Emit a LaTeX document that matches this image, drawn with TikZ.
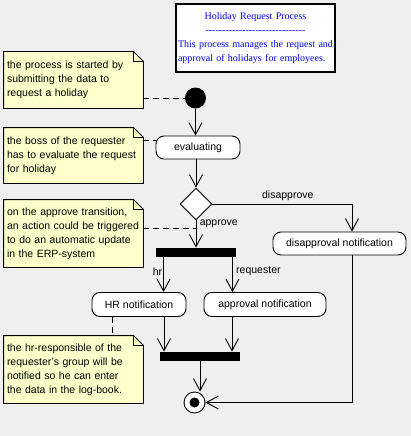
\documentclass[tikz,border=0pt]{standalone}
\usepackage{fontspec}
\setmainfont{Liberation Sans}
\newfontfamily\titlefont[Ligatures=TeXOff]{Liberation Serif}
\usetikzlibrary{arrows.meta,shapes.geometric,calc}

\definecolor{bgcol}{HTML}{EFEFEF}
\definecolor{notefill}{HTML}{FFFFCC}
\definecolor{titleblue}{HTML}{0000FF}

\tikzset{
  state/.style={draw, fill=white, rounded corners=8pt, inner sep=0pt},
  notebox/.style={fill=notefill, minimum width=139pt, text width=133pt, align=left, inner sep=3pt},
  bar/.style={fill=black, minimum width=80pt, minimum height=9pt, inner sep=0pt},
  flow/.style={-{Straight Barb[length=12pt,width=13pt]}},
  noteline/.style={dash pattern=on 6pt off 4pt},
}

% outline of a note with its folded corner
\newcommand{\notecorner}[1]{%
  \coordinate (#1-c) at (#1.north east);
  \fill[bgcol] ($(#1-c)+(-10pt,0)$) -- (#1-c) -- ($(#1-c)+(0,-10pt)$) -- cycle;
  \draw (#1.south west) -- (#1.north west) -- ($(#1-c)+(-10pt,0)$) -- ($(#1-c)+(0,-10pt)$) -- (#1.south east) -- cycle;
  \draw ($(#1-c)+(-10pt,0)$) |- ($(#1-c)+(0,-10pt)$);
}

\begin{document}
\begin{tikzpicture}[x=1pt, y=-1pt, line width=0.9pt, font=\fontsize{10.5}{14}\selectfont]
  \fill[bgcol] (0,0) rectangle (411,436);

  % title
  \node[draw, fill=white, line width=1.5pt, minimum width=159pt, minimum height=68pt, text width=155pt, align=left, inner sep=2pt, text=titleblue, font=\titlefont\fontsize{10}{14}\selectfont] (title) at (255.5,38)
    {\makebox[155pt]{Holiday Request Process}\\ \makebox[155pt]{------------------------------}\\ This process manages the request and\\ approval of holidays for employees.};

  % activity nodes
  \node[circle, fill=black, minimum size=21pt, inner sep=0pt] (init) at (195.5,98) {};
  \node[state, minimum width=84pt, minimum height=23pt] (eval) at (198,147.5) {evaluating};
  \node[diamond, draw, fill=white, minimum width=32pt, minimum height=32pt, inner sep=0pt] (dec) at (196,204) {};
  \node[state, minimum width=133pt, minimum height=23pt] (disnotif) at (339.5,243.5) {disapproval notification};
  \node[bar] (fork) at (196,252.5) {};
  \node[state, minimum width=94pt, minimum height=24pt] (hrnotif) at (139,304.5) {HR notification};
  \node[state, minimum width=122pt, minimum height=24pt] (apnotif) at (265,304.5) {approval notification};
  \node[bar] (join) at (200,356.5) {};
  \node[circle, draw, fill=white, minimum size=21pt, inner sep=0pt,
        path picture={\fill[black] (path picture bounding box.center) circle (5pt);}] (final) at (194.5,402.5) {};

  % notes
  \node[notebox, minimum height=56pt] (startnote) at (73.5,80) {the process is started by\\ submitting the data to\\ request a holiday};
  \node[notebox, minimum height=55pt] (bossnote) at (73.5,155.5) {the boss of the requester\\ has to evaluate the request\\ for holiday};
  \node[notebox, minimum height=67pt] (erpnote) at (73.5,233.5) {on the approve transition,\\ an action could be triggered\\ to do an automatic update\\ in the ERP-system};
  \node[notebox, minimum height=67pt] (lognote) at (73.5,369.5) {the hr-responsible of the\\ requester's group will be\\ notified so he can enter\\ the data in the log-book.};
  \notecorner{startnote}
  \notecorner{bossnote}
  \notecorner{erpnote}
  \notecorner{lognote}

  % transitions
  \draw[flow] (init) -- (init |- eval.north);
  \draw[flow] (eval.south -| dec) -- (dec.north);
  \draw[flow] (dec.south) -- coordinate[pos=0.29] (appr) node[right, pos=0.14] {approve} (dec |- fork.north);
  \draw[flow] (dec.east) -| node[above, pos=0.27] {disapprove} ([xshift=12.5pt]disnotif.north);
  \draw[flow] ([xshift=8pt]fork.south west) -- node[left, pos=0.4, inner sep=1pt] {hr} ([xshift=8pt]fork.south west |- hrnotif.north);
  \draw[flow] ([xshift=-4pt]fork.south east) -- node[right, pos=0.4] {requester} ([xshift=-4pt]fork.south east |- apnotif.north);
  \draw[flow] ([xshift=25pt]hrnotif.south) -- ([xshift=25pt]hrnotif.south |- join.north);
  \draw[flow] ([xshift=-33pt]apnotif.south) -- ([xshift=-33pt]apnotif.south |- join.north);
  \draw[flow] (join.south) -- (join.south |- final.north);
  \draw[flow] ([xshift=12.5pt]disnotif.south) |- (final);

  % note links
  \coordinate (bosslink) at ([yshift=7pt]eval.west);
  \draw[noteline] (startnote.east |- init) -- (init);
  \draw[noteline] (bosslink -| bossnote.east) -- (bosslink);
  \draw[noteline] (erpnote.east |- appr) -- (appr);
  \draw[noteline] ([xshift=-27pt]hrnotif.south) -- ([xshift=-27pt]hrnotif.south |- lognote.north);
\end{tikzpicture}
\end{document}
